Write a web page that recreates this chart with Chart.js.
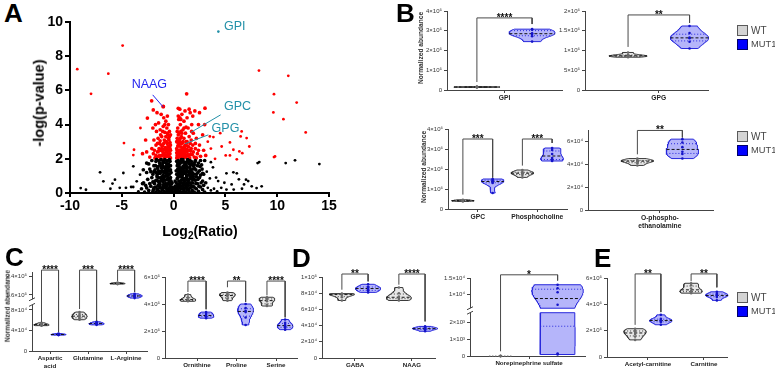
<!DOCTYPE html>
<html>
<head>
<meta charset="utf-8">
<script src="https://cdn.jsdelivr.net/npm/chart.js@4.4.1/dist/chart.umd.min.js"></script>
<style>
  body { margin: 0; background: #fff; font-family: 'Liberation Sans', Arial, sans-serif; }
  #page { position: relative; width: 775px; height: 372px; overflow: hidden; background: #fff; }
  #page canvas { position: absolute; }
  .t { position: absolute; white-space: nowrap; line-height: 1; }
</style>
</head>
<body>
<div id="page"></div>
<script>
// ---- Panel A: volcano plot (Log2 ratio, -log p) ----
const volcanoBlack = [
  [-3.4,0.1],[-3.1,0.25],[-2.8,0.05],[-2.6,0.3],[-2.4,0.15],[-2.2,0.4],[-2.0,0.1],[-1.9,0.3],[-1.7,0.05],[-1.6,0.2],
  [-1.5,0.45],[-1.4,0.1],[-1.3,0.3],[-1.2,0.05],[-1.1,0.2],[-1.0,0.4],[-0.9,0.1],[-0.8,0.3],[-0.7,0.05],[-0.6,0.2],
  [-0.5,0.12],[-0.4,0.3],[-0.3,0.08],[-0.2,0.18],[-0.1,0.05],[0.1,0.1],[0.2,0.25],[0.3,0.05],[0.4,0.2],[0.5,0.35],
  [0.6,0.1],[0.7,0.25],[0.8,0.05],[0.9,0.4],[1.0,0.15],[1.1,0.3],[1.2,0.05],[1.3,0.2],[1.4,0.45],[1.5,0.1],
  [1.6,0.3],[1.8,0.15],[1.9,0.4],[2.0,0.05],[2.2,0.25],[2.4,0.1],[2.6,0.35],[2.8,0.2],[3.0,0.05],[3.3,0.3],
  [3.6,0.15],[3.9,0.25],[4.2,0.1],
  [-2.9,0.6],[-2.5,0.8],[-2.3,0.55],[-2.1,0.9],[-1.8,0.7],[-1.6,0.95],[-1.4,0.6],[-1.2,0.85],[-1.0,0.65],[-0.9,0.95],
  [-0.75,0.55],[-0.6,0.8],[-0.45,0.65],[-0.3,0.9],[-0.2,0.55],[0.25,0.6],[0.35,0.85],[0.5,0.7],[0.65,0.95],[0.8,0.6],
  [0.95,0.8],[1.1,0.55],[1.25,0.9],[1.4,0.7],[1.6,0.85],[1.75,0.6],[1.9,0.95],[2.1,0.75],[2.3,0.55],[2.5,0.9],
  [2.8,0.7],[3.1,0.6],[3.5,0.85],
  [-2.6,1.2],[-2.3,1.4],[-2.0,1.1],[-1.8,1.35],[-1.6,1.05],[-1.45,1.3],[-1.3,1.15],[-1.15,1.45],[-1.0,1.05],[-0.85,1.3],
  [-0.7,1.15],[-0.55,1.4],[-0.4,1.1],[-0.3,1.35],[0.3,1.1],[0.4,1.4],[0.55,1.2],[0.7,1.45],[0.85,1.05],[1.0,1.3],
  [1.15,1.15],[1.3,1.4],[1.5,1.1],[1.65,1.35],[1.8,1.2],[2.0,1.45],[2.2,1.1],[2.5,1.3],[2.8,1.15],[3.2,1.25],
  [-2.4,1.7],[-2.1,1.9],[-1.9,1.6],[-1.7,1.85],[-1.5,1.55],[-1.35,1.75],[-1.2,1.95],[-1.05,1.6],[-0.9,1.8],[-0.75,1.55],
  [-0.6,1.9],[-0.5,1.7],[-0.35,1.85],[0.35,1.6],[0.45,1.9],[0.6,1.7],[0.75,1.95],[0.9,1.55],[1.05,1.8],[1.2,1.65],
  [1.35,1.95],[1.5,1.7],[1.7,1.85],[1.9,1.6],[2.1,1.9],[2.4,1.75],[2.7,1.65],[3.0,1.9],
  [-1.5,0.7],[-1.3,0.5],[-1.1,0.75],[-0.95,0.5],[-0.8,0.75],[-0.65,0.4],[-0.5,0.55],[-0.35,0.45],[-0.25,0.7],[0.3,0.35],
  [0.45,0.5],[0.6,0.45],[0.75,0.75],[0.9,0.55],[1.05,0.7],[1.2,0.45],[1.35,0.6],[1.5,0.8],[1.65,0.45],[1.8,0.8],
  [-1.7,1.2],[-1.55,1.45],[-1.25,1.25],[-0.95,1.2],[-0.8,1.45],[-0.6,1.25],[-0.45,1.3],[0.45,1.25],[0.6,1.0],[0.75,1.25],
  [0.95,1.15],[1.1,1.45],[1.25,1.0],[1.4,1.25],[1.55,1.5],[1.75,1.05],[-1.3,1.65],[-1.0,1.85],[-0.7,1.75],[-0.4,1.6],
  [0.4,1.75],[0.55,1.5],[0.8,1.8],[1.0,1.6],[1.3,1.8],[1.55,1.9],[1.8,1.7],[2.0,1.65],[-0.15,0.35],[0.15,0.4],
  [-2.7,0.45],[2.9,0.45],[-2.0,0.65],[2.2,0.95],[2.6,1.05],[-2.2,1.25],
  [-1.95,0.2],[-1.85,0.55],[-1.75,0.35],[-1.65,0.75],[-1.55,0.25],[-1.45,0.9],[-1.35,0.4],[-1.25,0.7],[-1.15,0.95],[-1.05,0.3],
  [-0.95,0.8],[-0.85,0.45],[-0.75,1.0],[-0.65,0.25],[-0.55,0.9],[-0.45,0.2],[-0.35,0.75],[-0.25,0.3],[-0.15,0.6],[-0.05,0.25],
  [0.05,0.3],[0.15,0.7],[0.25,0.2],[0.35,0.45],[0.45,0.95],[0.55,0.3],[0.65,0.6],[0.75,0.4],[0.85,0.9],[0.95,0.25],
  [1.05,0.5],[1.15,0.85],[1.25,0.3],[1.35,0.75],[1.45,0.25],[1.55,0.6],[1.65,0.95],[1.75,0.35],[1.85,0.6],[1.95,0.8],
  [2.05,0.3],[2.15,0.55],[2.35,0.8],[2.45,0.4],[2.65,0.6],
  [-1.9,1.25],[-1.75,1.6],[-1.65,1.95],[-1.45,1.15],[-1.4,1.9],[-1.2,1.55],[-1.1,1.3],[-1.05,1.75],[-0.9,1.5],[-0.85,1.95],
  [-0.75,1.35],[-0.65,1.65],[-0.55,1.05],[-0.5,1.5],[-0.4,1.95],[-0.3,1.6],[-0.25,1.2],[0.25,1.3],[0.3,1.85],[0.4,1.05],
  [0.5,1.6],[0.6,1.35],[0.65,1.8],[0.7,1.1],[0.85,1.4],[0.9,1.95],[1.0,1.15],[1.1,1.75],[1.2,1.25],[1.25,1.55],
  [1.4,1.05],[1.45,1.85],[1.6,1.2],[1.65,1.65],[1.85,1.4],[1.95,1.1],[2.05,1.8],[2.15,1.35],[2.3,1.6],[2.35,1.2],
  [2.55,1.55],[2.6,1.9],[2.75,1.4],[2.9,1.1],
  [-7.1,1.21],[-8.97,0.29],[-8.46,0.19],[-6.78,0.68],[-4.85,1.17],[-5.66,0.78],[-3.56,0.68],[-3.24,1.07],[-3.89,1.56],[-2.92,1.36],
  [-5.2,0.3],[-4.6,0.3],[-4.1,0.35],[-6.1,0.25],[-5.9,0.55],[-3.9,0.35],[-3.0,0.55],[-2.6,1.75],
  [8.27,1.81],[8.11,1.75],[10.82,1.75],[11.72,1.91],[14.07,1.69],[7.54,0.39],[8.01,0.29],[8.5,0.39],[6.99,0.78],[7.2,0.7],
  [5.77,1.21],[5.1,1.15],[6.1,1.15],[4.3,0.7],[4.9,0.6],[5.6,0.5],[6.3,0.8],[5.1,0.2],[5.8,0.2],[6.6,0.25],
  [4.6,0.3],[3.8,1.5],[4.1,0.9],[3.6,1.8],[6.8,0.5]
];
const volcanoRed = [
  [-2.3,2.1],[-2.1,2.6],[-1.95,2.3],[-1.9,3.1],[-1.8,2.05],[-1.7,2.8],[-1.65,3.6],[-1.55,2.4],[-1.5,3.2],[-1.45,4.1],
  [-1.4,2.15],[-1.35,2.9],[-1.3,3.7],[-1.25,2.5],[-1.2,4.6],[-1.15,3.3],[-1.1,2.2],[-1.05,2.75],[-1.0,3.9],[-0.95,4.4],
  [-0.95,2.35],[-0.9,3.1],[-0.85,3.55],[-0.8,2.1],[-0.8,2.65],[-0.75,4.2],[-0.7,3.0],[-0.7,2.4],[-0.65,3.8],[-0.6,2.2],
  [-0.6,2.9],[-0.55,3.4],[-0.5,2.5],[-0.5,4.0],[-0.45,2.15],[-0.45,3.1],[-0.4,2.7],[-0.4,3.6],[-0.35,2.3],[-0.35,2.95],
  [-0.3,2.05],[-0.3,2.5],[-1.6,4.7],[-1.75,4.0],[-2.0,3.8],[-2.6,2.4],[-1.25,2.0],[-0.9,2.05],[-1.15,2.6],[-1.6,2.1],
  [-2.7,3.1],[-3.2,3.8],[-3.0,2.3],[-0.6,4.5],[-1.0,5.05],[-0.75,3.3],[-1.3,3.05],
  [-1.85,2.5],[-1.7,2.2],[-1.55,2.9],[-1.45,2.45],[-1.35,2.2],[-1.25,3.4],[-1.2,2.8],[-1.1,2.45],[-1.05,3.6],[-1.0,2.3],
  [-0.95,2.9],[-0.9,2.55],[-0.85,2.25],[-0.8,3.0],[-0.75,2.5],[-0.7,2.15],[-0.65,2.6],[-0.6,3.5],[-0.55,2.3],[-0.55,2.75],
  [-0.5,2.15],[-0.5,3.2],[-0.45,2.5],[-0.4,2.1],[-0.4,3.3],[-0.35,2.6],[-0.3,2.8],[-0.3,3.4],[-0.85,4.0],[-1.4,2.6],
  [0.3,2.05],[0.3,2.6],[0.35,3.2],[0.4,2.3],[0.4,3.8],[0.45,2.9],[0.5,2.1],[0.5,4.3],[0.55,2.5],[0.55,3.5],
  [0.6,2.2],[0.6,3.0],[0.65,4.0],[0.7,2.7],[0.7,2.1],[0.75,3.3],[0.8,2.4],[0.8,4.6],[0.85,2.95],[0.9,2.15],
  [0.9,3.7],[0.95,2.6],[1.0,3.2],[1.0,4.2],[1.05,2.3],[1.1,2.8],[1.1,4.8],[1.15,3.5],[1.2,2.1],[1.25,2.55],
  [1.3,3.0],[1.3,4.4],[1.35,2.25],[1.4,3.8],[1.45,2.7],[1.5,3.3],[1.55,2.05],[1.6,4.7],[1.65,2.45],[1.7,3.1],
  [1.75,4.0],[1.8,2.25],[1.85,2.8],[1.9,3.5],[2.0,2.1],[2.05,4.8],[2.1,2.6],[2.2,3.2],[2.3,2.3],[2.4,4.0],
  [2.5,2.8],[2.6,2.15],[2.8,3.4],[2.9,2.5],[3.1,2.2],[3.3,3.0],[1.5,4.9],[0.6,4.9],[0.45,4.95],[1.85,4.5],
  [2.5,4.7],[0.35,2.2],[0.5,2.75],[0.65,2.35],[0.85,2.05],[1.05,2.65],[1.2,3.85],[0.7,3.6],[0.95,2.45],[1.6,2.9],
  [2.2,2.05],[3.6,2.6],[4.0,2.0],[3.0,4.0],
  [0.3,2.35],[0.3,3.0],[0.35,2.5],[0.35,3.6],[0.4,2.1],[0.4,2.75],[0.45,2.4],[0.45,3.4],[0.5,2.3],[0.5,3.1],
  [0.55,2.15],[0.55,2.9],[0.6,2.5],[0.6,4.4],[0.65,2.2],[0.65,3.2],[0.7,2.5],[0.75,2.2],[0.75,2.9],[0.8,2.15],
  [0.8,3.5],[0.85,2.6],[0.9,2.35],[0.9,3.0],[0.95,2.2],[1.0,2.7],[1.05,2.1],[1.1,2.45],[1.15,2.2],[1.2,3.0],
  [1.3,2.4],[1.35,2.75],[1.4,2.2],[1.5,2.5],[1.6,2.25],[1.7,2.6],[1.9,2.4],[2.1,2.9],[2.4,2.5],[0.7,4.3],
  [1.0,3.8],[0.45,4.5],
  [-9.3,7.24],[-4.92,8.62],[-6.3,6.98],[-7.97,5.8],[-4.79,2.92],[-3.82,2.53],[-3.89,2.22],[-2.12,5.39],[-1.96,4.86],[-2.53,4.38],
  [1.26,5.8],[3.03,4.96],[3.5,3.31],[3.84,3.27],[4.64,2.72],[5.44,2.96],[5.77,2.53],[5.03,2.2],[5.44,2.2],[6.1,1.97],
  [6.57,3.6],[7.05,3.21],[6.47,3.31],[6.35,2.43],[6.63,2.33],[7.31,2.72],[8.24,7.16],[9.69,5.78],[9.63,4.71],[9.79,2.14],
  [9.69,2.1],[10.6,4.32],[11.07,6.85],[11.88,5.29],[12.75,3.54],[-0.99,5.06],[1.74,3.6],[1.26,2.92],[4.5,3.5]
];
const volcanoGPI = [[4.32, 9.44]];
const volcanoNotes = [
  { text: 'GPI', color: '#2390a8', at: [4.86, 9.73] },
  { text: 'NAAG', color: '#2323ee', at: [-4.05, 6.32], from: [-2.02, 5.74], to: [-0.99, 5.02] },
  { text: 'GPC', color: '#2390a8', at: [4.86, 5.06], from: [4.54, 4.57], to: [1.65, 3.54] },
  { text: 'GPG', color: '#2390a8', at: [3.67, 3.79], from: [3.35, 3.40], to: [1.1, 2.88] }
];

// ---- Panels B-E: normalized abundance per replicate ----
const gpiWT = [1.3e4, 1.4e4, 1.5e4, 1.5e4, 1.6e4, 1.7e4];
const gpiMUT = [3.08e5, 3.05e5, 2.87e5, 2.83e5, 2.72e5, 2.45e5];
const gpgWT = [9.5e5, 8.9e5, 8.7e5, 8.6e5, 8.5e5, 8.3e5];
const gpgMUT = [1.62e6, 1.44e6, 1.33e6, 1.31e6, 1.22e6, 1.05e6];
const gpcWT = [4.6e5, 4.4e5, 4.2e5, 4.1e5, 4.0e5, 3.8e5];
const gpcMUT = [1.5e6, 1.45e6, 1.4e6, 1.35e6, 1.3e6, 8.0e5];
const pchoWT = [1.95e6, 1.85e6, 1.8e6, 1.78e6, 1.7e6, 1.58e6];
const pchoMUT = [3.05e6, 2.95e6, 2.75e6, 2.55e6, 2.45e6, 2.4e6];
const peaWT = [4.5e4, 4.35e4, 4.3e4, 4.25e4, 4.1e4, 3.9e4];
const peaMUT = [6.2e4, 5.9e4, 5.5e4, 5.1e4, 4.9e4, 4.5e4];
const aspWT = [5.5e4, 5.3e4, 5.2e4, 5.1e4, 5.0e4, 4.95e4];
const aspMUT = [3.4e4, 3.3e4, 3.25e4, 3.2e4, 3.15e4, 3.1e4];
const glnWT = [7.6e4, 7.2e4, 6.9e4, 6.7e4, 6.4e4, 6.1e4];
const glnMUT = [5.7e4, 5.5e4, 5.4e4, 5.3e4, 5.2e4, 5.1e4];
const argWT = [2.12e5, 2.1e5, 2.09e5, 2.08e5, 2.07e5, 2.06e5];
const argMUT = [1.65e5, 1.6e5, 1.57e5, 1.55e5, 1.52e5, 1.47e5];
const ornWT = [4.7e5, 4.5e5, 4.35e5, 4.3e5, 4.25e5, 4.2e5];
const ornMUT = [3.4e5, 3.3e5, 3.2e5, 3.1e5, 3.05e5, 2.95e5];
const proWT = [4.85e5, 4.75e5, 4.65e5, 4.6e5, 4.4e5, 4.25e5];
const proMUT = [4.0e5, 3.7e5, 3.5e5, 3.4e5, 3.0e5, 2.45e5];
const serWT = [4.5e5, 4.4e5, 4.3e5, 4.2e5, 3.95e5, 3.85e5];
const serMUT = [2.85e5, 2.6e5, 2.45e5, 2.35e5, 2.25e5, 2.1e5];
const gabaWT = [7.95e4, 7.9e4, 7.85e4, 7.8e4, 7.5e4, 7.1e4];
const gabaMUT = [9.1e4, 8.8e4, 8.65e4, 8.5e4, 8.3e4, 8.1e4];
const naagWT = [8.7e4, 8.0e4, 7.6e4, 7.4e4, 7.3e4, 7.1e4];
const naagMUT = [3.9e4, 3.75e4, 3.65e4, 3.6e4, 3.5e4, 3.3e4];
const nesWT = [0, 0, 0, 0, 0, 0];
const nesMUT = [13100, 12000, 10700, 6700, 150, 90];
const acarWT = [2.15e5, 2.0e5, 1.9e5, 1.75e5, 1.55e5, 1.3e5];
const acarMUT = [3.2e5, 2.9e5, 2.8e5, 2.75e5, 2.65e5, 2.45e5];
const carWT = [5.6e5, 5.45e5, 5.2e5, 5.0e5, 4.95e5, 4.85e5];
const carMUT = [4.95e5, 4.8e5, 4.7e5, 4.65e5, 4.55e5, 4.3e5];

// y tick values
const ticksGPI = [0, 1e5, 2e5, 3e5, 4e5];
const ticksGPG = [0, 5e5, 1e6, 1.5e6, 2e6];
const ticksGPC = [0, 1e6, 2e6, 3e6, 4e6];
const ticksPEA = [0, 2e4, 4e4, 6e4];
const ticksC1 = [0, 4e4, 8e4, 1.6e5, 2.4e5];
const ticksC2 = [0, 2e5, 4e5, 6e5];
const ticksD1 = [0, 2e4, 4e4, 6e4, 8e4, 1e5];
const ticksD2 = [0, 1e3, 2e3, 1e4, 1.5e4];
const ticksE = [0, 2e5, 4e5, 6e5];

// significance: [category, WT leg end, MUT1 leg end, bracket top, stars]
const sigGPI = [[0, 4.05e4, 3.34e5, 3.65e5, '****']];
const sigGPG = [[0, 1.09e6, 1.70e6, 1.9e6, '**']];
const sigGPC = [[0, 7.2e5, 1.57e6, 3.5e6, '***'], [1, 2.17e6, 3.3e6, 3.5e6, '***']];
const sigPEA = [[0, 4.87e4, 6.35e4, 6.96e4, '**']];
const sigC1 = [[0, 5.66e4, 3.7e4, 2.65e5, '****'], [1, 8.19e4, 5.85e4, 2.65e5, '***'], [2, 2.19e5, 1.726e5, 2.65e5, '****']];
const sigC2 = [[0, 4.89e5, 3.61e5, 5.7e5, '****'], [1, 5.24e5, 4.15e5, 5.7e5, '**'], [2, 4.64e5, 3.01e5, 5.7e5, '****']];
const sigD1 = [[0, 8.43e4, 9.46e4, 1.037e5, '**'], [1, 9.05e4, 4.52e4, 1.037e5, '****']];
const sigD2 = [[0, 282, 14457, 16277, '*']];
const sigE = [[0, 2.44e5, 3.41e5, 6.31e5, '**'], [1, 5.75e5, 5.29e5, 6.31e5, '**']];

Chart.defaults.font.family = "'Liberation Sans', Arial, sans-serif";

const page = document.getElementById('page');
const WT = { line: '#3a3a3a', fill: '#e8e8e8', dot: '#6a6a6a' };
const MUT = { line: '#2828dc', fill: 'rgba(132,132,246,0.6)', dot: '#1414c8' };

function txt(html, x, y, css) {
  const d = document.createElement('div');
  d.className = 't';
  d.innerHTML = html;
  d.style.cssText += `left:${x}px;top:${y}px;` + (css || '');
  page.appendChild(d);
  return d;
}
function vtxt(html, cx, cy, css) {
  const d = txt(html, cx, cy, css);
  d.style.transform = 'translate(-50%,-50%) rotate(-90deg)';
  return d;
}

// canvas placed so that the chart area lands on [l,t,r,b]
function place(area, yw, pt, pr, xh) {
  const x = area[0] - yw, y = area[1] - pt;
  const w = Math.round(area[2] + pr - x), h = Math.round(area[3] + xh - y);
  const c = document.createElement('canvas');
  c.width = w; c.height = h;
  c.style.left = x + 'px'; c.style.top = y + 'px';
  c.style.width = w + 'px'; c.style.height = h + 'px';
  page.appendChild(c);
  return c;
}

function sup(n) {
  const m = { '0': '⁰', '1': '¹', '2': '²', '3': '³', '4': '⁴', '5': '⁵', '6': '⁶', '7': '⁷', '8': '⁸', '9': '⁹' };
  return String(n).split('').map(ch => m[ch]).join('');
}
function fmtSci(v) {
  if (v === 0) return '0';
  const e = Math.floor(Math.log10(v) + 1e-9);
  const m = Math.round(v / Math.pow(10, e) * 10) / 10;
  return m + '×10' + sup(e);
}

function mapSeg(segs, v) {
  for (let i = 0; i < segs.length; i++) {
    const s = segs[i];
    if (v <= s.hi || i === segs.length - 1) return s.u0 + (v - s.lo) * s.k;
  }
}

function quant(s, p) {
  const i = (s.length - 1) * p, lo = Math.floor(i), hi = Math.ceil(i);
  return s[lo] + (s[hi] - s[lo]) * (i - lo);
}

function violinSets(vals, cx, hw, col, segs) {
  const s = vals.slice().sort((a, b) => a - b);
  const n = s.length, mn = s[0], mx = s[n - 1];
  const T = v => mapSeg(segs, v);
  const base = { type: 'line', pointRadius: 0, borderWidth: 1, tension: 0, clip: false };
  const out = [];
  if (mx - mn <= 0) {
    out.push({ ...base, order: 3, data: [{ x: cx - hw * 0.45, y: T(mn) }, { x: cx + hw * 0.45, y: T(mn) }],
      borderColor: '#777', borderDash: [1.5, 1.5], fill: false });
  } else {
    const mean = s.reduce((a, b) => a + b, 0) / n;
    const sd = Math.sqrt(s.reduce((a, b) => a + (b - mean) ** 2, 0) / (n - 1));
    const h = sd * 0.6;
    const dens = y => s.reduce((a, v) => a + Math.exp(-0.5 * ((y - v) / h) ** 2), 0);
    let dmax = 0;
    for (let i = 0; i <= 200; i++) dmax = Math.max(dmax, dens(mn + (mx - mn) * i / 200));
    const w = y => hw * dens(y) / dmax;
    segs.forEach(sg => {
      const a = Math.max(mn, sg.lo), b = Math.min(mx, sg.hi);
      if (b <= a) return;
      const right = [], left = [];
      for (let i = 0; i <= 60; i++) {
        const y = a + (b - a) * i / 60;
        right.push({ x: cx + w(y), y: T(y) });
        left.unshift({ x: cx - w(y), y: T(y) });
      }
      const pts = right.concat(left);
      pts.push(right[0]);
      out.push({ ...base, order: 3, data: pts, borderColor: col.line, backgroundColor: col.fill, fill: 'shape' });
    });
    const med = quant(s, 0.5);
    out.push({ ...base, order: 2, data: [{ x: cx - w(med), y: T(med) }, { x: cx + w(med), y: T(med) }],
      borderColor: '#111', borderDash: [3, 2], fill: false });
    [quant(s, 0.25), quant(s, 0.75)].forEach(q => out.push({ ...base, order: 2,
      data: [{ x: cx - w(q), y: T(q) }, { x: cx + w(q), y: T(q) }],
      borderColor: col.line, borderDash: [1, 2], fill: false }));
  }
  out.push({ type: 'line', order: 1, showLine: false, clip: false, data: s.map(v => ({ x: cx, y: T(v) })),
    pointRadius: 1.3, pointBackgroundColor: col.dot, pointBorderWidth: 0 });
  return out;
}

function violinChart(p) {
  const segs = p.segs || [{ lo: 0, hi: Infinity, u0: 0, k: 1 }];
  const T = v => mapSeg(segs, v);
  const canvas = place(p.area, 40, 16, 8, 30);
  const datasets = [];
  p.groups.forEach((pair, i) => {
    datasets.push(...violinSets(pair[0], i - p.off, p.hw, WT, segs));
    datasets.push(...violinSets(pair[1], i + p.off, p.hw, MUT, segs));
  });
  p.sig.forEach(sg => {
    const [i, a, b, top] = sg;
    datasets.push({ type: 'line', order: 0, clip: false, pointRadius: 0, borderWidth: 1, borderColor: '#4a4a4a', fill: false,
      data: [{ x: i - p.off, y: T(a) }, { x: i - p.off, y: T(top) }, { x: i + p.off, y: T(top) }, { x: i + p.off, y: T(b) }] });
  });
  const extras = {
    id: 'extras',
    afterDraw(chart) {
      const ctx = chart.ctx, xs = chart.scales.x, ys = chart.scales.y;
      ctx.save();
      ctx.fillStyle = '#111';
      ctx.font = "bold 10px 'Liberation Sans', Arial, sans-serif";
      ctx.textAlign = 'center';
      ctx.textBaseline = 'alphabetic';
      p.sig.forEach(sg => {
        ctx.fillText(sg[4], xs.getPixelForValue(sg[0]), ys.getPixelForValue(T(sg[3])) + 3);
      });
      if (segs.length > 1) {
        const x = chart.chartArea.left;
        const yUp = ys.getPixelForValue(segs[1].u0);
        const yLo = ys.getPixelForValue(T(segs[0].hi));
        ctx.fillStyle = '#fff';
        ctx.fillRect(x - 2, yUp, 4, yLo - yUp);
        ctx.strokeStyle = '#444';
        ctx.lineWidth = 1;
        ctx.beginPath();
        ctx.moveTo(x - 3, yUp + 1.5); ctx.lineTo(x + 3, yUp - 1.5);
        ctx.moveTo(x - 3, yLo + 1.5); ctx.lineTo(x + 3, yLo - 1.5);
        ctx.stroke();
      }
      ctx.restore();
    }
  };
  new Chart(canvas, {
    type: 'line',
    data: { datasets },
    options: {
      responsive: false, animation: false, devicePixelRatio: 1, events: [],
      layout: { padding: { left: 0, top: 16, right: 8, bottom: 0 } },
      plugins: { legend: { display: false }, tooltip: { enabled: false } },
      scales: {
        x: {
          type: 'linear', min: p.xr[0], max: p.xr[1],
          afterFit: s => { s.height = 30; },
          afterBuildTicks: s => { s.ticks = p.cats.map((c, i) => ({ value: i })); },
          ticks: { callback: (v, i) => p.cats[i], font: { size: p.catSize, weight: 'bold' }, color: '#222',
            padding: 1, maxRotation: 0, autoSkip: false },
          grid: { drawOnChartArea: false, drawTicks: true, tickLength: 3, color: '#444' },
          border: { display: true, color: '#444', width: 1 }
        },
        y: {
          type: 'linear', min: 0, max: p.umax,
          afterFit: s => { s.width = 40; },
          afterBuildTicks: s => { s.ticks = p.ticks.map(v => ({ value: T(v) })); },
          ticks: { callback: (v, i) => fmtSci(p.ticks[i]), font: { size: 6 }, color: '#333', padding: 2, autoSkip: false },
          grid: { drawOnChartArea: false, drawTicks: true, tickLength: 3, color: '#444' },
          border: { display: true, color: '#444', width: 1 }
        }
      }
    },
    plugins: [extras]
  });
}

// ---- Panel A ----
(function () {
  const canvas = place([70, 22, 329, 193], 40, 12, 14, 22);
  const notes = {
    id: 'notes',
    afterDatasetsDraw(chart) {
      const ctx = chart.ctx, xs = chart.scales.x, ys = chart.scales.y;
      ctx.save();
      ctx.font = "12.5px 'Liberation Sans', Arial, sans-serif";
      ctx.textBaseline = 'middle';
      volcanoNotes.forEach(n => {
        ctx.fillStyle = n.color;
        ctx.fillText(n.text, xs.getPixelForValue(n.at[0]), ys.getPixelForValue(n.at[1]));
        if (n.from) {
          ctx.strokeStyle = n.color;
          ctx.lineWidth = 1;
          ctx.beginPath();
          ctx.moveTo(xs.getPixelForValue(n.from[0]), ys.getPixelForValue(n.from[1]));
          ctx.lineTo(xs.getPixelForValue(n.to[0]), ys.getPixelForValue(n.to[1]));
          ctx.stroke();
        }
      });
      ctx.restore();
    }
  };
  const pts = arr => arr.map(([x, y]) => ({ x, y }));
  // core of the cloud is drawn a bit heavier so it reads as a solid mass
  const rad = c => (c.raw && Math.abs(c.raw.x) < 3.2 ? 1.85 : 1.4);
  new Chart(canvas, {
    type: 'scatter',
    data: {
      datasets: [
        { data: pts(volcanoBlack), pointRadius: rad, pointBackgroundColor: '#000', pointBorderWidth: 0, clip: false },
        { data: pts(volcanoRed), pointRadius: rad, pointBackgroundColor: '#ff0000', pointBorderWidth: 0, clip: false },
        { data: pts(volcanoGPI), pointRadius: 1.3, pointBackgroundColor: '#2390a8', pointBorderWidth: 0, clip: false }
      ]
    },
    options: {
      responsive: false, animation: false, devicePixelRatio: 1, events: [],
      layout: { padding: { left: 0, top: 12, right: 14, bottom: 0 } },
      plugins: { legend: { display: false }, tooltip: { enabled: false } },
      scales: {
        x: {
          type: 'linear', min: -10, max: 15,
          afterFit: s => { s.height = 22; },
          ticks: { stepSize: 5, font: { size: 14, weight: 'bold' }, color: '#000', padding: 1 },
          grid: { drawOnChartArea: false, drawTicks: true, tickLength: 4, color: '#000', lineWidth: 2 },
          border: { display: true, color: '#000', width: 2 }
        },
        y: {
          type: 'linear', min: 0, max: 10,
          afterFit: s => { s.width = 40; },
          ticks: { stepSize: 2, font: { size: 14, weight: 'bold' }, color: '#000', padding: 2 },
          grid: { drawOnChartArea: false, drawTicks: true, tickLength: 5, color: '#000', lineWidth: 2 },
          border: { display: true, color: '#000', width: 2 }
        }
      }
    },
    plugins: [notes]
  });
})();

// ---- Panels B-E ----
violinChart({ area: [447, 11, 562, 90], xr: [-1, 1], off: 0.48, hw: 0.4, cats: ['GPI'], catSize: 6.7,
  groups: [[gpiWT, gpiMUT]], ticks: ticksGPI, umax: 4e5, sig: sigGPI });
violinChart({ area: [585, 11, 708, 90], xr: [-1.2, 0.8], off: 0.5, hw: 0.31, cats: ['GPG'], catSize: 6.7,
  groups: [[gpgWT, gpgMUT]], ticks: ticksGPG, umax: 2e6, sig: sigGPG });
violinChart({ area: [448, 129, 567, 209], xr: [-0.5, 1.5], off: 0.25, hw: 0.19, cats: ['GPC', 'Phosphocholine'], catSize: 6.7,
  groups: [[gpcWT, gpcMUT], [pchoWT, pchoMUT]], ticks: ticksGPC, umax: 4e6, sig: sigGPC });
violinChart({ area: [588, 130, 713, 210], xr: [-1.15, 0.85], off: 0.36, hw: 0.26, cats: [['O-phospho-', 'ethanolamine']], catSize: 6.7,
  groups: [[peaWT, peaMUT]], ticks: ticksPEA, umax: 7e4, sig: sigPEA });
violinChart({ area: [32, 272, 147, 351], xr: [-0.474, 2.55], off: 0.224, hw: 0.2,
  cats: [['Aspartic', 'acid'], 'Glutamine', 'L-Arginine'], catSize: 6.2,
  groups: [[aspWT, aspMUT], [glnWT, glnMUT], [argWT, argMUT]], ticks: ticksC1, umax: 154129, sig: sigC1,
  segs: [{ lo: 0, hi: 9e4, u0: 0, k: 1 }, { lo: 1.42e5, hi: Infinity, u0: 100917, k: 0.4633 }] });
violinChart({ area: [165, 277, 297, 358], xr: [-0.81, 2.53], off: 0.23, hw: 0.2,
  cats: ['Ornithine', 'Proline', 'Serine'], catSize: 6.2,
  groups: [[ornWT, ornMUT], [proWT, proMUT], [serWT, serMUT]], ticks: ticksC2, umax: 6e5, sig: sigC2 });
violinChart({ area: [322, 277, 435, 358], xr: [-0.579, 1.404], off: 0.23, hw: 0.22,
  cats: ['GABA', 'NAAG'], catSize: 6.2,
  groups: [[gabaWT, gabaMUT], [naagWT, naagMUT]], ticks: ticksD1, umax: 1e5, sig: sigD1 });
violinChart({ area: [470, 278, 585, 356], xr: [-1.035, 0.98], off: 0.5, hw: 0.45,
  cats: ['Norepinephrine sulfate'], catSize: 6.2,
  groups: [[nesWT, nesMUT]], ticks: ticksD2, umax: 4684, sig: sigD2,
  segs: [{ lo: 0, hi: 2600, u0: 0, k: 1 }, { lo: 5600, hi: Infinity, u0: 2869, k: 0.188 }] });
violinChart({ area: [607, 278, 727, 357], xr: [-0.732, 1.411], off: 0.23, hw: 0.2,
  cats: ['Acetyl-carnitine', 'Carnitine'], catSize: 6.2,
  groups: [[acarWT, acarMUT], [carWT, carMUT]], ticks: ticksE, umax: 6e5, sig: sigE });

// ---- text: panel letters, axis titles, legends ----
const letter = 'font-weight:bold;font-size:26px;color:#000;';
txt('A', 4, 0, letter);
txt('B', 396, 0, letter);
txt('C', 5, 244, letter);
txt('D', 292, 245, letter);
txt('E', 594, 245, letter);

vtxt('-log(p-value)', 39, 103, 'font-weight:bold;font-size:14.5px;color:#000;');
txt('Log<sub style="font-size:10px;vertical-align:-3px">2</sub>(Ratio)', 200, 224,
  'font-weight:bold;font-size:14px;color:#000;transform:translateX(-50%);');

const yTitle = 'font-weight:bold;font-size:6.6px;color:#333;';
vtxt('Normalized abundance', 421, 48, yTitle);
vtxt('Normalized abundance', 424, 167, yTitle);
vtxt('Normalized abundance', 8, 306, yTitle);

function legend(x, y) {
  const box = (yy, fill, border) => {
    const b = document.createElement('div');
    b.style.cssText = `position:absolute;left:${x}px;top:${yy}px;width:9px;height:9px;background:${fill};border:1px solid ${border};`;
    page.appendChild(b);
  };
  box(y, '#d4d4d4', '#5a5a5a');
  box(y + 14, '#0000ff', '#00006a');
  txt('WT', x + 14, y + 1, 'font-size:10px;color:#444;');
  txt('MUT1', x + 14, y + 15, 'font-size:9.3px;color:#444;');
}
legend(737, 25);
legend(737, 131);
legend(737, 292);
</script>
</body>
</html>
